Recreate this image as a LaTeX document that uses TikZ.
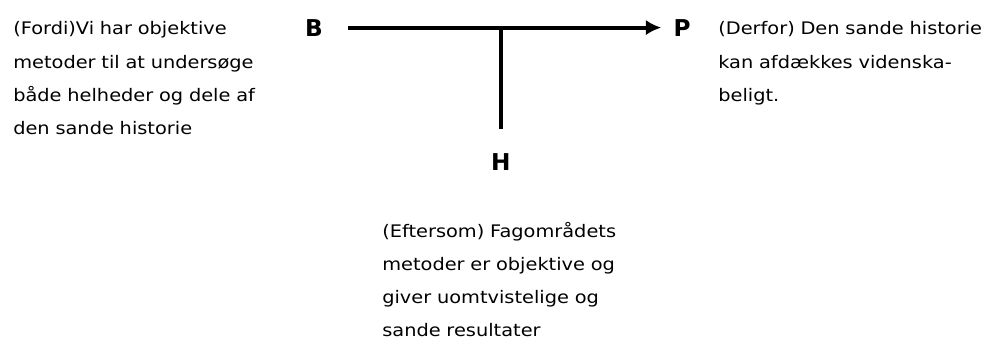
\documentclass[tikz,border=0pt]{standalone}
\usepackage{fontspec}
\setmainfont[FakeStretch=1.12]{DejaVu Sans}
\newfontfamily\markfont{DejaVu Sans}
\usepackage{tikz}
\usetikzlibrary{arrows.meta}
\tikzstyle{letter} = [font=\markfont\bfseries\fontsize{16.5}{18}\selectfont, inner sep=0pt]
\tikzstyle{note} = [anchor=base west, inner sep=0pt, text width=7.5cm, align=left,
    font=\fontsize{12.3}{23.5}\selectfont]
\tikzstyle{line} = [draw, line width=2.8pt, -{Latex[length=11pt,width=11pt]}]
\tikzstyle{stem} = [draw, line width=2.8pt]

\begin{document}
\begin{tikzpicture}[node distance = 2cm, auto]
    \useasboundingbox (0,0) rectangle (24.75,-8.55);
    % Place nodes
    \node [letter] (b) at (7.85,-0.69) {B};
    \node [letter, right of=b, node distance=9.2cm] (p) {P};
    \node [letter] (h) at (12.52,-4.05) {H};
    \coordinate (j) at (h |- b);
    \node [note] (grund) at (0.325,-0.875) {(Fordi)Vi har objektive\\metoder til at undersøge\\både helheder og dele af\\den sande historie};
    \node [note] (pastand) at (17.95,-0.875) {(Derfor) Den sande historie\\kan afdækkes videnska-\\beligt.};
    \node [note] (hjemmel) at (9.55,-5.925) {(Eftersom) Fagområdets\\metoder er objektive og\\giver uomtvistelige og\\sande resultater};

    % Draw edges
    \path [line, shorten <=0.62cm, shorten >=0.3cm] (b) -- (p);
    \path [stem, shorten >=0.6cm] (j) -- (h);
\end{tikzpicture}
\end{document}
